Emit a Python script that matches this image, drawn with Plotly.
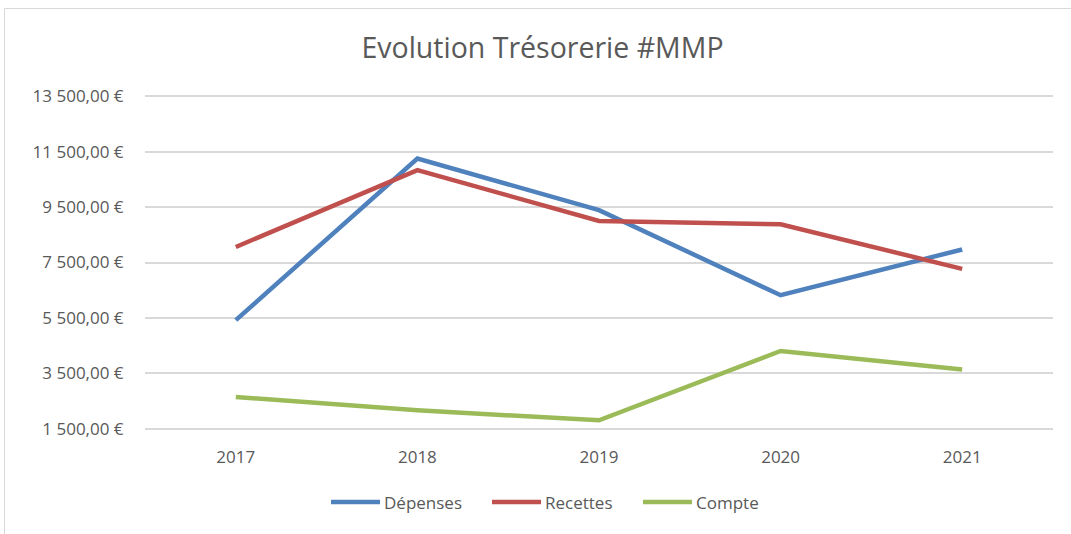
import plotly.graph_objects as go

years = ["2017", "2018", "2019", "2020", "2021"]
depenses = [5420, 11250, 9390, 6320, 7970]
recettes = [8060, 10830, 9000, 8880, 7270]
compte = [2650, 2170, 1810, 4310, 3640]

tick_vals = [1500, 3500, 5500, 7500, 9500, 11500, 13500]
tick_text = ["1 500,00 €", "3 500,00 €", "5 500,00 €", "7 500,00 €",
             "9 500,00 €", "11 500,00 €", "13 500,00 €"]

series = [
    ("Dépenses", depenses, "#4F81BD"),
    ("Recettes", recettes, "#C0504D"),
    ("Compte", compte, "#9BBB59"),
]

FONT = "Open Sans"
TXT = "#595959"

fig = go.Figure()
for name, vals, col in series:
    fig.add_trace(go.Scatter(x=years, y=vals, name=name, mode="lines",
                             showlegend=False,
                             line=dict(color=col, width=4.5)))

W, H = 1071, 534
L, R, T, B = 145, 18, 95, 104
pw, ph = W - L - R, H - T - B

def px_to_paper_x(px):
    return (px - L) / pw

def px_to_paper_y(py):
    return (H - B - py) / ph

fig.update_layout(
    width=W, height=H,
    margin=dict(l=L, r=R, t=T, b=B),
    paper_bgcolor="white", plot_bgcolor="white",
    font=dict(family=FONT, color=TXT, size=17),
    title=dict(text="Evolution Trésorerie #MMP", x=542.5 / W, xanchor="center",
               xref="container", y=1 - 48 / H, yanchor="middle",
               yref="container",
               font=dict(family=FONT, size=28.5, color=TXT)),
    xaxis=dict(type="category", range=[-0.5, 4.5], showgrid=False,
               showline=False, zeroline=False, ticks="outside", ticklen=12,
               tickcolor="rgba(0,0,0,0)", tickfont=dict(size=17, color=TXT)),
    yaxis=dict(range=[1460, 13540], tickvals=tick_vals, ticktext=tick_text,
               showgrid=True, gridcolor="#D9D9D9", gridwidth=1.5,
               zeroline=False, showline=False, ticks="outside", ticklen=17,
               tickcolor="rgba(0,0,0,0)", tickfont=dict(size=17, color=TXT)),
    showlegend=False,
)

# border of chart area
fig.add_shape(type="rect", xref="paper", yref="paper",
              x0=px_to_paper_x(4.5), x1=px_to_paper_x(1080),
              y0=px_to_paper_y(560), y1=px_to_paper_y(8.5),
              line=dict(color="#D9D9D9", width=1), layer="below")

# legend drawn as line samples + labels
legend_x = [331, 492, 643]
legend_y = px_to_paper_y(502)
for (name, _, col), lx in zip(series, legend_x):
    fig.add_shape(type="line", xref="paper", yref="paper",
                  x0=px_to_paper_x(lx), x1=px_to_paper_x(lx + 49),
                  y0=legend_y, y1=legend_y,
                  line=dict(color=col, width=4.5))
    fig.add_annotation(text=name, xref="paper", yref="paper",
                       x=px_to_paper_x(lx + 51), y=legend_y,
                       xanchor="left", yanchor="middle", showarrow=False,
                       font=dict(size=17, color=TXT, family=FONT))

fig.write_html("out.html",
               config={"displayModeBar": False},
               post_script="document.body.style.margin='0';"
                           "document.body.style.padding='0';")
